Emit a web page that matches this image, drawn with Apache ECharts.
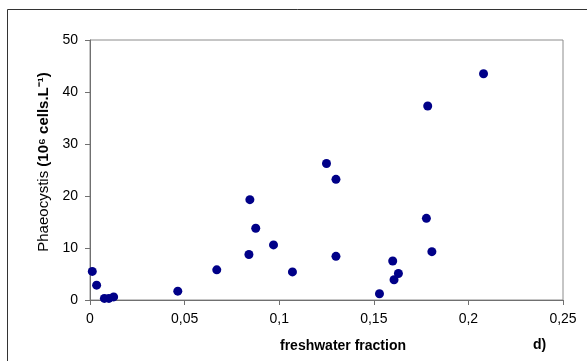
<!DOCTYPE html>
<html>
<head>
<meta charset="utf-8">
<script src="https://cdn.jsdelivr.net/npm/echarts@6/dist/echarts.min.js"></script>
<style>
  html, body { margin: 0; padding: 0; background: #fff; }
  #chart { width: 587px; height: 361px; }
</style>
</head>
<body>
<div id="chart"></div>
<script>
// freshwater fraction (x) vs Phaeocystis (10^6 cells/L)
const freshwater = [0.0012, 0.0035, 0.0076, 0.010, 0.0125, 0.0464, 0.067, 0.084, 0.0845, 0.0876, 0.097, 0.107,
  0.125, 0.130, 0.130, 0.153, 0.160, 0.1607, 0.163, 0.1778, 0.1785, 0.1807, 0.208];
const phaeocystis = [5.5, 2.85, 0.3, 0.3, 0.6, 1.7, 5.8, 8.75, 19.3, 13.8, 10.6, 5.4,
  26.25, 23.2, 8.4, 1.2, 7.5, 3.9, 5.1, 15.7, 37.3, 9.3, 43.5];
const xTicks = [0, 0.05, 0.1, 0.15, 0.2, 0.25];
const yTicks = [0, 10, 20, 30, 40, 50];

const chart = echarts.init(document.getElementById('chart'));

const points = freshwater.map((x, i) => [x, phaeocystis[i]]);

const option = {
  animation: false,
  textStyle: { fontFamily: 'Liberation Sans, Arial, sans-serif' },
  grid: {
    left: 90, top: 40, right: 24, bottom: 61,
    show: true, borderColor: '#8c8c8c', borderWidth: 1
  },
  xAxis: {
    type: 'value',
    min: xTicks[0],
    max: xTicks[xTicks.length - 1],
    interval: 0.05,
    name: 'freshwater fraction',
    nameLocation: 'middle',
    nameGap: 39,
    nameTextStyle: { fontSize: 14, fontWeight: 'bold', color: '#000', padding: [0, 0, 0, 33] },
    axisLine: { lineStyle: { color: '#707070' } },
    axisTick: { show: true, length: 5, lineStyle: { color: '#707070' } },
    splitLine: { show: false },
    axisLabel: {
      fontSize: 14, color: '#000', margin: 12,
      formatter: v => String(+v.toFixed(2)).replace('.', ',')
    }
  },
  yAxis: {
    type: 'value',
    min: yTicks[0],
    max: yTicks[yTicks.length - 1],
    interval: 10,
    name: '{r|Phaeocystis }{b|(10⁶ cells.L⁻¹)}',
    nameLocation: 'middle',
    nameGap: 38,
    nameTextStyle: {
      color: '#000',
      padding: [0, 0, 0, 16],
      rich: {
        r: { fontSize: 15, color: '#000' },
        b: { fontSize: 15, color: '#000', fontWeight: 'bold' }
      }
    },
    axisLine: { show: true, lineStyle: { color: '#707070' } },
    axisTick: { show: true, length: 5, lineStyle: { color: '#707070' } },
    splitLine: { show: false },
    axisLabel: { fontSize: 14, color: '#000', margin: 12 }
  },
  graphic: [
    {
      type: 'rect',
      shape: { x: 7.5, y: 9.5, width: 700, height: 500 },
      style: { fill: 'none', stroke: '#333', lineWidth: 1 },
      silent: true
    },
    {
      type: 'text',
      left: 533, top: 338,
      style: { text: 'd)', font: 'bold 14px Liberation Sans, Arial, sans-serif', fill: '#000' }
    }
  ],
  series: [{
    type: 'scatter',
    data: points,
    symbolSize: 9,
    itemStyle: { color: '#000088', opacity: 1 }
  }]
};

chart.setOption(option);
window.addEventListener('resize', () => chart.resize());
</script>
</body>
</html>
